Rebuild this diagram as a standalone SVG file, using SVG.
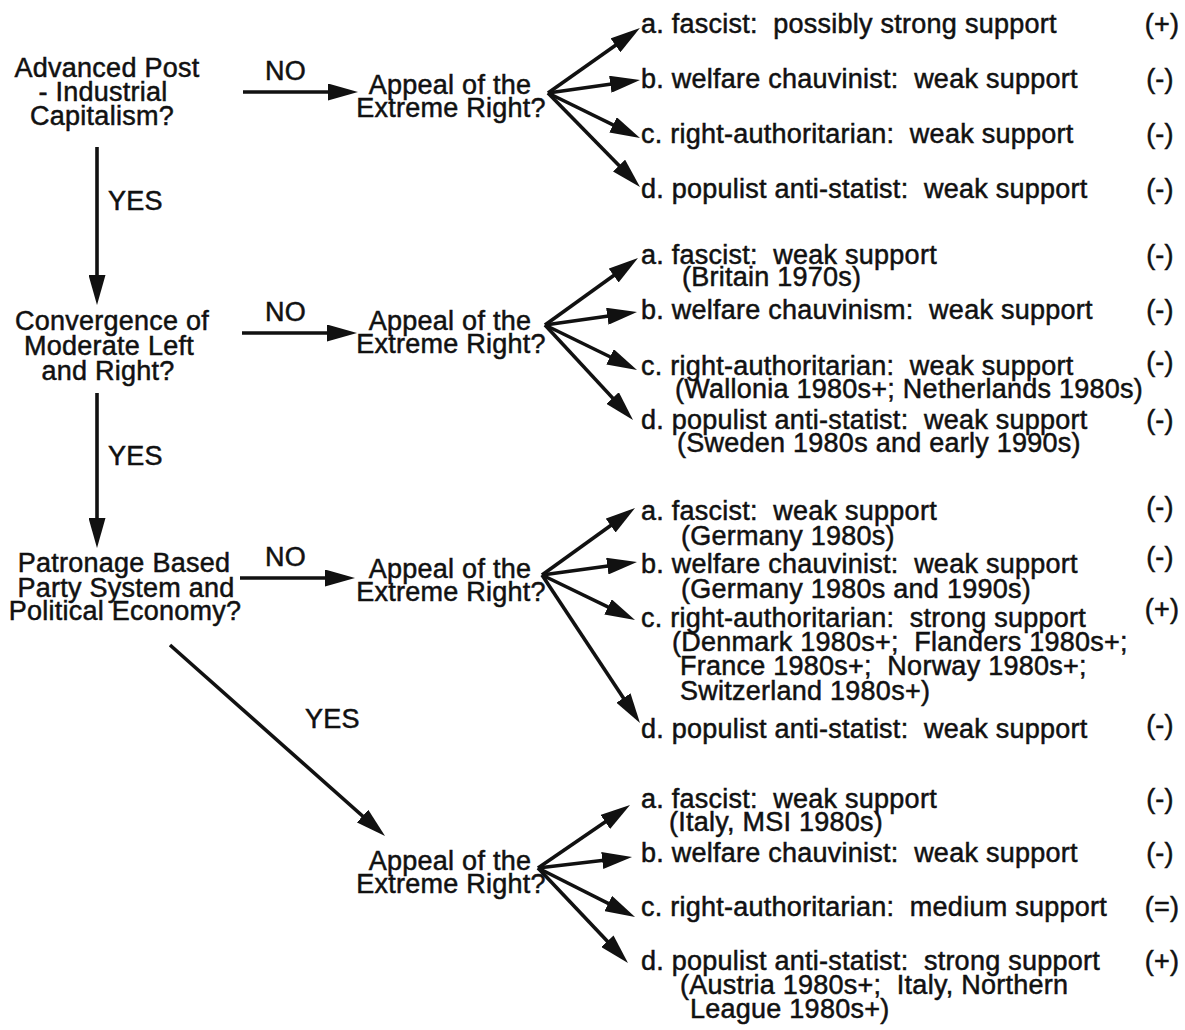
<svg xmlns="http://www.w3.org/2000/svg" width="1185" height="1030" viewBox="0 0 1185 1030">
  <defs>
    <marker id="head" markerUnits="userSpaceOnUse" markerWidth="30" markerHeight="17" refX="21" refY="8.5" orient="auto">
      <path d="M0,0 L30,8.5 L0,17 Z" fill="#111"/>
    </marker>
  </defs>
  <style>
    text { font-family: "Liberation Sans", Arial, Helvetica, sans-serif; font-size: 27px; fill: #111; stroke: #111; stroke-width: 0.5; letter-spacing: 0.25px; white-space: pre; }
    .c { text-anchor: middle; }
    .edge { stroke: #111; stroke-width: 3.6; fill: none; marker-end: url(#head); }
  </style>
  <rect width="1185" height="1030" fill="#fff"/>

  <!-- connectors -->
  <g id="connectors">
    <!-- main decision chain -->
    <line class="edge" x1="97" y1="147" x2="97" y2="296"/>
    <line class="edge" x1="97" y1="393" x2="97" y2="539"/>
    <line class="edge" x1="170" y1="645" x2="378.3" y2="830"/>
    <!-- NO branches -->
    <line class="edge" x1="243" y1="92" x2="349" y2="92"/>
    <line class="edge" x1="242" y1="333" x2="348" y2="333"/>
    <line class="edge" x1="240" y1="578" x2="346" y2="578"/>
    <!-- fan 1 -->
    <line class="edge" x1="548" y1="93" x2="632.6" y2="33.2"/>
    <line class="edge" x1="548" y1="93" x2="631.1" y2="81.3"/>
    <line class="edge" x1="548" y1="93" x2="631.9" y2="134.1"/>
    <line class="edge" x1="548" y1="93" x2="633.7" y2="180.6"/>
    <!-- fan 2 -->
    <line class="edge" x1="545" y1="325" x2="630.7" y2="263.3"/>
    <line class="edge" x1="545" y1="325" x2="628.1" y2="313.3"/>
    <line class="edge" x1="545" y1="325" x2="628.9" y2="366.0"/>
    <line class="edge" x1="545" y1="325" x2="626.9" y2="413.4"/>
    <!-- fan 3 -->
    <line class="edge" x1="542" y1="575" x2="627.7" y2="513.3"/>
    <line class="edge" x1="542" y1="575" x2="628.1" y2="563.2"/>
    <line class="edge" x1="542" y1="575" x2="626.9" y2="616.1"/>
    <line class="edge" x1="542" y1="575" x2="635.0" y2="715.5"/>
    <!-- fan 4 -->
    <line class="edge" x1="538" y1="868" x2="622.6" y2="810.1"/>
    <line class="edge" x1="538" y1="868" x2="623.1" y2="858.0"/>
    <line class="edge" x1="538" y1="868" x2="627.0" y2="912.9"/>
    <line class="edge" x1="538" y1="868" x2="621.8" y2="956.5"/>
  </g>

  <!-- edge labels -->
  <g id="edge-labels">
    <text x="265" y="80">NO</text>
    <text x="265" y="321">NO</text>
    <text x="265" y="566">NO</text>
    <text x="108" y="210">YES</text>
    <text x="108" y="465">YES</text>
    <text x="305" y="728">YES</text>
  </g>

  <!-- decision nodes -->
  <g id="q-capitalism">
    <text class="c" x="107" y="77">Advanced Post</text>
    <text class="c" x="103" y="101">- Industrial</text>
    <text class="c" x="102" y="125">Capitalism?</text>
  </g>
  <g id="q-convergence">
    <text class="c" x="112" y="330">Convergence of</text>
    <text class="c" x="109" y="355">Moderate Left</text>
    <text class="c" x="108" y="380">and Right?</text>
  </g>
  <g id="q-patronage">
    <text class="c" x="124" y="572">Patronage Based</text>
    <text class="c" x="126" y="597">Party System and</text>
    <text class="c" x="125" y="620">Political Economy?</text>
  </g>

  <!-- appeal nodes -->
  <g id="appeal-1">
    <text class="c" x="450" y="94">Appeal of the</text>
    <text class="c" x="451" y="117">Extreme Right?</text>
  </g>
  <g id="appeal-2">
    <text class="c" x="450" y="330">Appeal of the</text>
    <text class="c" x="451" y="353">Extreme Right?</text>
  </g>
  <g id="appeal-3">
    <text class="c" x="450" y="578">Appeal of the</text>
    <text class="c" x="451" y="601">Extreme Right?</text>
  </g>
  <g id="appeal-4">
    <text class="c" x="450" y="870">Appeal of the</text>
    <text class="c" x="451" y="893">Extreme Right?</text>
  </g>

  <!-- outcomes, branch 1 -->
  <g id="out-1">
    <text x="641" y="33">a. fascist:  possibly strong support</text>
    <text x="641" y="88">b. welfare chauvinist:  weak support</text>
    <text x="641" y="143">c. right-authoritarian:  weak support</text>
    <text x="641" y="198">d. populist anti-statist:  weak support</text>
    <text class="c" x="1162" y="33">(+)</text>
    <text class="c" x="1160" y="88">(-)</text>
    <text class="c" x="1160" y="143">(-)</text>
    <text class="c" x="1160" y="198">(-)</text>
  </g>

  <!-- outcomes, branch 2 -->
  <g id="out-2">
    <text x="641" y="264">a. fascist:  weak support</text>
    <text x="682" y="286">(Britain 1970s)</text>
    <text x="641" y="319">b. welfare chauvinism:  weak support</text>
    <text x="641" y="375">c. right-authoritarian:  weak support</text>
    <text x="675" y="398">(Wallonia 1980s+; Netherlands 1980s)</text>
    <text x="641" y="429">d. populist anti-statist:  weak support</text>
    <text x="677" y="452">(Sweden 1980s and early 1990s)</text>
    <text class="c" x="1160" y="264">(-)</text>
    <text class="c" x="1160" y="319">(-)</text>
    <text class="c" x="1160" y="371">(-)</text>
    <text class="c" x="1160" y="429">(-)</text>
  </g>

  <!-- outcomes, branch 3 -->
  <g id="out-3">
    <text x="641" y="520">a. fascist:  weak support</text>
    <text x="681" y="545">(Germany 1980s)</text>
    <text x="641" y="573">b. welfare chauvinist:  weak support</text>
    <text x="681" y="598">(Germany 1980s and 1990s)</text>
    <text x="641" y="627">c. right-authoritarian:  strong support</text>
    <text x="672" y="651">(Denmark 1980s+;  Flanders 1980s+;</text>
    <text x="680" y="675">France 1980s+;  Norway 1980s+;</text>
    <text x="680" y="700">Switzerland 1980s+)</text>
    <text x="641" y="738">d. populist anti-statist:  weak support</text>
    <text class="c" x="1160" y="516">(-)</text>
    <text class="c" x="1160" y="566">(-)</text>
    <text class="c" x="1162" y="618">(+)</text>
    <text class="c" x="1160" y="734">(-)</text>
  </g>

  <!-- outcomes, branch 4 -->
  <g id="out-4">
    <text x="641" y="808">a. fascist:  weak support</text>
    <text x="669" y="831">(Italy, MSI 1980s)</text>
    <text x="641" y="862">b. welfare chauvinist:  weak support</text>
    <text x="641" y="916">c. right-authoritarian:  medium support</text>
    <text x="641" y="970">d. populist anti-statist:  strong support</text>
    <text x="680" y="994">(Austria 1980s+;  Italy, Northern</text>
    <text x="690" y="1018">League 1980s+)</text>
    <text class="c" x="1160" y="808">(-)</text>
    <text class="c" x="1160" y="862">(-)</text>
    <text class="c" x="1162" y="916">(=)</text>
    <text class="c" x="1162" y="970">(+)</text>
  </g>
</svg>
